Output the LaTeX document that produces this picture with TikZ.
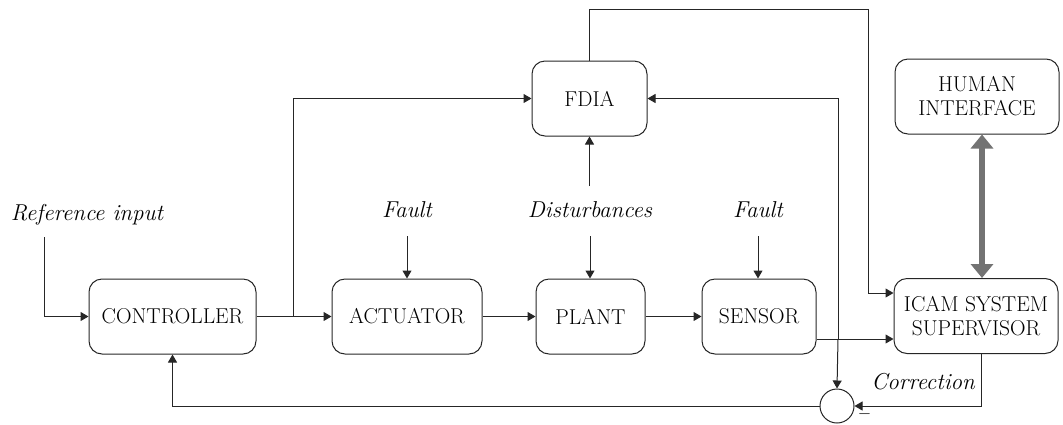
\documentclass[tikz,border=0pt]{standalone}
\usetikzlibrary{arrows.meta}
\begin{document}
\begin{tikzpicture}[x=1pt,y=-1pt,
  blk/.style={draw=black!85,line width=1pt,rounded corners=13pt,minimum height=75pt,
    inner sep=0pt,align=center,font=\fontsize{21.5}{24}\selectfont},
  lbl/.style={font=\fontsize{23}{26}\selectfont\itshape,inner sep=0pt},
  ln/.style={line width=1pt,draw=black!85},
  arr/.style={ln,-{Triangle[length=8pt,width=9pt]}},
  dbl/.style={line width=6pt,draw=black!55,{Triangle[length=14pt,width=22pt]}-{Triangle[length=14pt,width=22pt]}}]
\useasboundingbox (0,0) rectangle (1063,424);
% blocks
\node[blk,minimum width=167pt] (ctrl) at (172.5,316.5) {CONTROLLER};
\node[blk,minimum width=150pt] (act) at (407,316.5) {ACTUATOR};
\node[blk,minimum width=109pt] (plant) at (590.5,316.5) {PLANT};
\node[blk,minimum width=114pt] (sens) at (759,316.5) {SENSOR};
\node[blk,minimum width=164pt] (icam) at (976,316) {ICAM SYSTEM\\SUPERVISOR};
\node[blk,minimum width=115pt] (fdia) at (589.5,98.5) {FDIA};
\node[blk,minimum width=164pt] (hmi) at (977,96.5) {HUMAN\\INTERFACE};
\node[draw=black!85,line width=1pt,circle,minimum size=34pt,inner sep=0pt] (circ) at (837,406) {};
% labels
\node[lbl] (refin) at (87,215) {Reference input};
\node[lbl] (fa) at (407,210) {Fault};
\node[lbl] (dist) at (590,210) {Disturbances};
\node[lbl] (fs) at (758,210) {Fault};
\node[lbl,anchor=east] (corr) at (975,382) {Correction};
\node[font=\fontsize{18}{18}\selectfont,inner sep=0pt] (minus) at (864.5,414) {$-$};
% coordinates
\coordinate (refs) at (44,237);
\coordinate (br) at (293,316.5);
\coordinate (fas) at (407,236);
\coordinate (dis) at (590,236);
\coordinate (diu) at (589.5,186);
\coordinate (fss) at (758,236);
\coordinate (top1) at (589.5,9);
\coordinate (top2) at (868,9);
\coordinate (top3) at (868,293);
\coordinate (j) at (838,339);
\coordinate (corrx) at (981,353);
\coordinate (hmix) at (982,0);
% connectors
\draw[arr] (refs) |- (ctrl.west);
\draw[arr] (ctrl.east) -- (act.west);
\draw[arr] (br) |- (fdia.west);
\draw[arr] (act.east) -- (plant.west);
\draw[arr] (plant.east) -- (sens.west);
\draw[arr] (fas) -- (act.north);
\draw[arr] (dis) -- (dis |- plant.north);
\draw[arr] (diu) -- (fdia.south);
\draw[arr] (fss) -- (fss |- sens.north);
\draw[arr] (fdia.north) -- (top1) -- (top2) -- (top3) -- (top3 -| icam.west);
\draw[arr] (sens.east |- j) -- (j -| icam.west);
\draw[arr] (j) |- (fdia.east);
\draw[arr] (j) -- (circ.north);
\draw[arr] (corrx) |- (circ.east);
\draw[arr] (circ.west) -| (ctrl.south);
\draw[dbl] (hmix |- hmi.south) -- (hmix |- icam.north);
\end{tikzpicture}
\end{document}
